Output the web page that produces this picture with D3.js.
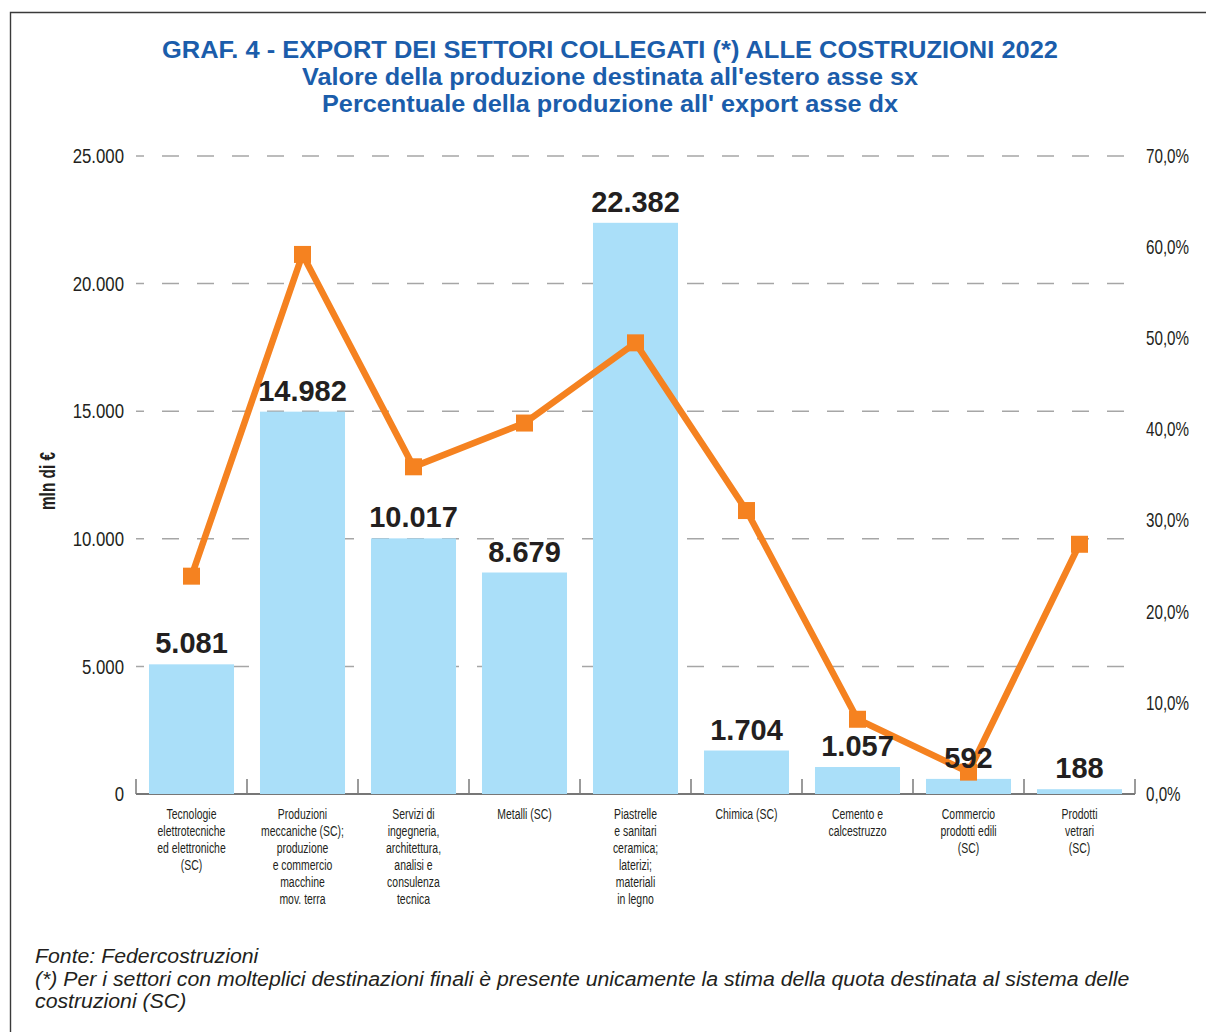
<!DOCTYPE html>
<html lang="it">
<head>
<meta charset="utf-8">
<script src="https://cdn.jsdelivr.net/npm/d3@7"></script>
<style>
  html, body { margin: 0; padding: 0; background: #fff; }
  svg { display: block; }
</style>
</head>
<body>
<svg id="chart" width="1206" height="1032"></svg>
<script>
// Settori collegati alle costruzioni: export 2022
const categories = [
  "Tecnologie elettrotecniche",
  "Produzioni meccaniche",
  "Servizi di ingegneria",
  "Metalli",
  "Piastrelle e sanitari",
  "Chimica",
  "Cemento e calcestruzzo",
  "Commercio prodotti edili",
  "Prodotti vetrari"
];
const categoryLines = [
  ["Tecnologie", "elettrotecniche", "ed elettroniche", "(SC)"],
  ["Produzioni", "meccaniche (SC);", "produzione", "e commercio", "macchine", "mov. terra"],
  ["Servizi di", "ingegneria,", "architettura,", "analisi e", "consulenza", "tecnica"],
  ["Metalli (SC)"],
  ["Piastrelle", "e sanitari", "ceramica;", "laterizi;", "materiali", "in legno"],
  ["Chimica (SC)"],
  ["Cemento e", "calcestruzzo"],
  ["Commercio", "prodotti edili", "(SC)"],
  ["Prodotti", "vetrari", "(SC)"]
];
// Valore della produzione destinata all'estero (mln di €) - asse sinistro
const exportValue = [5081, 14982, 10017, 8679, 22382, 1704, 1057, 592, 188];
// Quota della produzione destinata all'export - asse destro
const exportShare = [0.239, 0.592, 0.359, 0.407, 0.495, 0.311, 0.082, 0.024, 0.274];

const leftTicks = [0, 5000, 10000, 15000, 20000, 25000];
const rightTicks = [0, 0.1, 0.2, 0.3, 0.4, 0.5, 0.6, 0.7];

const titleLines = [
  "GRAF. 4 - EXPORT DEI SETTORI COLLEGATI (*) ALLE COSTRUZIONI 2022",
  "Valore della produzione destinata all'estero asse sx",
  "Percentuale della produzione all' export asse dx"
];
const footerLines = [
  "Fonte: Federcostruzioni",
  "(*) Per i settori con molteplici destinazioni finali è presente unicamente la stima della quota destinata al sistema delle",
  "costruzioni (SC)"
];

const it = d3.formatLocale({ decimal: ",", thousands: ".", grouping: [3], currency: ["", " €"] });
const fmtInt = it.format(",d");
const fmtPct = v => it.format(".1f")(v * 100) + "%";

const SANS = "'Liberation Sans', Arial, sans-serif";
const TEXT = "#231f20";
const BLUE = "#1b5dab";
const BAR = "#aadff9";
const ORANGE = "#f58220";

const svg = d3.select("#chart");

// cornice
svg.append("path")
  .attr("d", "M10.5,1032 V12.5 H1206")
  .attr("fill", "none").attr("stroke", "#3a3a3a").attr("stroke-width", 1.4);

// titolo (carattere compresso)
const titleY = [58, 85, 112];
const titleW = [896, 616, 576];
titleLines.forEach((t, i) => {
  svg.append("text")
    .attr("x", 610).attr("y", titleY[i])
    .attr("text-anchor", "middle")
    .attr("font-family", SANS).attr("font-weight", "bold")
    .attr("font-size", 24.5)
    .attr("fill", BLUE)
    .attr("textLength", titleW[i]).attr("lengthAdjust", "spacingAndGlyphs")
    .text(t);
});

// scale
const x = d3.scaleBand().domain(categories).range([136, 1135])
  .paddingInner(0.234).paddingOuter(0.117);
const y = d3.scaleLinear().domain([0, 25000]).range([794, 156]);
const y2 = d3.scaleLinear().domain([0, 0.7]).range([794, 156]);
const step = x.step();

// griglia tratteggiata
svg.append("g").selectAll("line")
  .data(leftTicks.filter(d => d > 0))
  .join("line")
  .attr("x1", 136).attr("x2", 1135)
  .attr("y1", d => y(d)).attr("y2", d => y(d))
  .attr("stroke", "#a6a6a6").attr("stroke-width", 1.5)
  .attr("stroke-dasharray", "17,18").attr("stroke-dashoffset", 9);

// asse sinistro
const gLeft = svg.append("g").attr("transform", "translate(124,0)")
  .call(d3.axisLeft(y).tickValues(leftTicks).tickFormat(fmtInt).tickSize(0).tickPadding(0));
gLeft.select(".domain").remove();
gLeft.selectAll("text")
  .attr("x", 0)
  .attr("font-family", SANS).attr("font-size", 21).attr("fill", TEXT)
  .attr("transform", "scale(0.8,1)");

// asse destro
const gRight = svg.append("g").attr("transform", "translate(1146,0)")
  .call(d3.axisRight(y2).tickValues(rightTicks).tickFormat(fmtPct).tickSize(0).tickPadding(0));
gRight.select(".domain").remove();
gRight.selectAll("text")
  .attr("x", 0)
  .attr("font-family", SANS).attr("font-size", 20).attr("fill", TEXT)
  .attr("transform", "scale(0.76,1)");

// titolo asse
svg.append("text")
  .attr("transform", "translate(55,481) rotate(-90) scale(0.7,1)")
  .attr("text-anchor", "middle")
  .attr("font-family", SANS).attr("font-weight", "bold").attr("font-size", 22)
  .attr("fill", TEXT)
  .text("mln di €");

// linea di base e separatori di categoria
svg.append("line")
  .attr("x1", 136).attr("x2", 1135).attr("y1", y(0)).attr("y2", y(0))
  .attr("stroke", "#4a4a4a").attr("stroke-width", 1.5);
const boundaries = d3.range(categories.length + 1).map(i => 136 + i * step);
svg.append("g").selectAll("line")
  .data(boundaries)
  .join("line")
  .attr("x1", d => d).attr("x2", d => d)
  .attr("y1", y(0)).attr("y2", y(0) - 15)
  .attr("stroke", "#7a7a7a").attr("stroke-width", 1.5);

// barre
svg.append("g").selectAll("rect")
  .data(categories)
  .join("rect")
  .attr("x", d => x(d))
  .attr("width", x.bandwidth())
  .attr("y", (d, i) => y(exportValue[i]))
  .attr("height", (d, i) => y(0) - y(exportValue[i]))
  .attr("fill", BAR);

// linea percentuale
const line = d3.line()
  .x((d, i) => x(categories[i]) + x.bandwidth() / 2)
  .y(d => y2(d));
svg.append("path")
  .datum(exportShare)
  .attr("d", line)
  .attr("fill", "none")
  .attr("stroke", ORANGE).attr("stroke-width", 6.5)
  .attr("stroke-linejoin", "miter");
const M = 17;
svg.append("g").selectAll("rect")
  .data(exportShare)
  .join("rect")
  .attr("x", (d, i) => x(categories[i]) + x.bandwidth() / 2 - M / 2)
  .attr("y", d => y2(d) - M / 2)
  .attr("width", M).attr("height", M)
  .attr("fill", ORANGE);

// etichette valori
svg.append("g").selectAll("text")
  .data(categories)
  .join("text")
  .attr("x", d => x(d) + x.bandwidth() / 2)
  .attr("y", (d, i) => y(exportValue[i]) - 11)
  .attr("text-anchor", "middle")
  .attr("font-family", SANS).attr("font-weight", "bold").attr("font-size", 29)
  .attr("fill", TEXT)
  .text((d, i) => fmtInt(exportValue[i]));

// etichette categorie
categories.forEach((c, i) => {
  const t = svg.append("g")
    .attr("transform", `translate(${x(c) + x.bandwidth() / 2},819)`)
    .append("text")
    .attr("transform", "scale(0.72,1)")
    .attr("text-anchor", "middle")
    .attr("font-family", SANS).attr("font-size", 14.5)
    .attr("fill", TEXT);
  categoryLines[i].forEach((ln, j) => {
    t.append("tspan").attr("x", 0).attr("y", j * 17).text(ln);
  });
});

// note (corsivo compresso, larghezza riga lunga 1095 px)
const foot = svg.append("g");
const footY = [963, 986, 1008];
const footTexts = footerLines.map((t, i) =>
  foot.append("text")
    .attr("x", 0).attr("y", footY[i])
    .attr("font-family", SANS).attr("font-style", "italic").attr("font-size", 21)
    .attr("fill", TEXT)
    .text(t));
const natural = footTexts[1].node().getComputedTextLength();
foot.attr("transform", `translate(35,0) scale(${1095 / natural},1)`);
</script>
</body>
</html>
